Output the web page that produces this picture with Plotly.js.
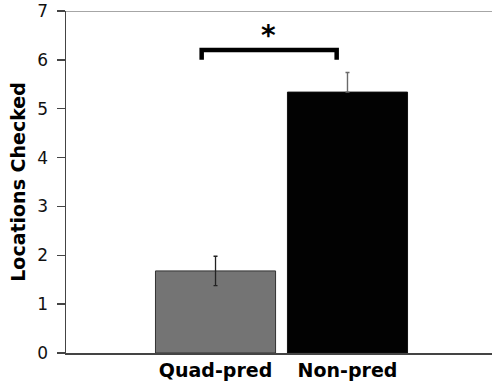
<!DOCTYPE html>
<html>
<head>
<meta charset="utf-8">
<script src="https://cdn.plot.ly/plotly-3.0.1.min.js"></script>
<style>html,body{margin:0;padding:0;background:#fff;}#chart{width:492px;height:383px;}</style>
</head>
<body>
<div id="chart"></div>
<script>
// Data
const categories = ["Quad-pred", "Non-pred"];
const meanValues = [1.68, 5.34];
const errorValues = [0.30, 0.40];
const barColors = ["#747474", "#020202"];
const yTickValues = [0, 1, 2, 3, 4, 5, 6, 7];
const yTickLabels = ["0", "1", "2", "3", "4", "5", "6", "7"];
const significanceLabel = "*";

// Significance bracket position (in axis units)
const bracketX = [-0.105, 0.918];
const bracketY = [6.0, 6.2];
const starPos = [0.40, 6.13];

const traces = [
  {
    type: "bar",
    x: [0],
    y: [meanValues[0]],
    width: 0.91,
    marker: {color: barColors[0], line: {color: "#333", width: 1}},
    error_y: {type: "data", array: [errorValues[0]], visible: true, color: "#222", thickness: 1.3, width: 2},
    hoverinfo: "none"
  },
  {
    type: "bar",
    x: [1],
    y: [meanValues[1]],
    width: 0.91,
    marker: {color: barColors[1], line: {color: "#111", width: 1}},
    // lower half of this error bar is hidden inside the black bar in the original
    error_y: {type: "data", symmetric: false, array: [errorValues[1]], arrayminus: [0], visible: true, color: "#6a6a6a", thickness: 1.4, width: 2},
    hoverinfo: "none"
  }
];

const font = "DejaVu Sans, Verdana, sans-serif";

const layout = {
  width: 492,
  height: 383,
  margin: {l: 66, r: 0, t: 11, b: 30},
  paper_bgcolor: "#fff",
  plot_bgcolor: "#fff",
  showlegend: false,
  barmode: "overlay",
  xaxis: {
    range: [-1.133, 2.095],
    tickvals: [0, 1],
    ticktext: categories,
    ticks: "",
    showgrid: false,
    zeroline: false,
    showline: true,
    linecolor: "#444",
    linewidth: 1.5,
    tickfont: {family: font, size: 19, color: "#000", weight: "bold"},
    fixedrange: true
  },
  yaxis: {
    range: [0, 7],
    tickvals: yTickValues,
    ticktext: yTickLabels,
    ticks: "outside",
    ticklen: 8,
    tickwidth: 1.3,
    tickcolor: "#444",
    ticklabelstandoff: 5,
    showgrid: false,
    zeroline: false,
    showline: true,
    linecolor: "#444",
    linewidth: 1.5,
    tickfont: {family: font, size: 17, color: "#111"},
    title: {text: "Locations Checked", font: {family: font, size: 19, color: "#000", weight: "bold"}, standoff: 6},
    fixedrange: true
  },
  shapes: [
    {type: "line", xref: "paper", yref: "y", x0: 0, x1: 1, y0: 7, y1: 7, line: {color: "#888", width: 1.3}},
    {type: "path", xref: "x", yref: "y",
     path: `M ${bracketX[0]},${bracketY[0]} L ${bracketX[0]},${bracketY[1]} L ${bracketX[1]},${bracketY[1]} L ${bracketX[1]},${bracketY[0]}`,
     line: {color: "#000", width: 4.5}}
  ],
  annotations: [
    {x: starPos[0], y: starPos[1], xref: "x", yref: "y", text: significanceLabel, showarrow: false,
     yanchor: "bottom", font: {family: font, size: 28, color: "#000", weight: "bold"}}
  ]
};

Plotly.newPlot("chart", traces, layout, {displayModeBar: false, staticPlot: true});
</script>
</body>
</html>
